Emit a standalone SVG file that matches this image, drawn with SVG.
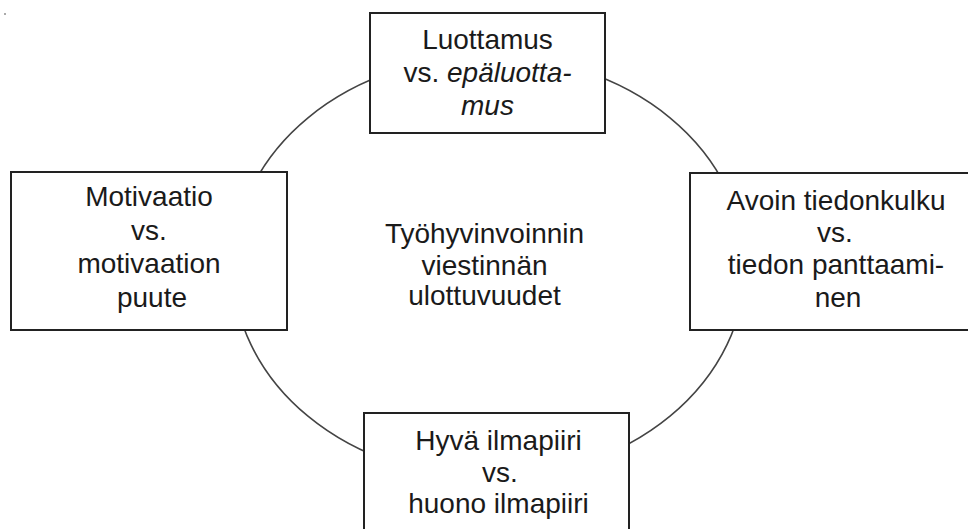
<svg xmlns="http://www.w3.org/2000/svg" width="968" height="529" viewBox="0 0 968 529">
<style>
.box{fill:#fff;stroke:#222;stroke-width:2}
.t{font-family:"Liberation Sans",Arial,sans-serif;font-size:28px;fill:#1a1a1a;text-anchor:middle}
.ring{fill:none;stroke:#444;stroke-width:1.6}
</style>
<rect width="968" height="529" fill="#fff"/>
<rect x="4" y="13" width="2" height="2" fill="#aaa"/>
<g id="connectors">
<ellipse class="ring" cx="489" cy="267" rx="256" ry="211"/>
</g>
<g id="center">
<text class="t" x="484.5" y="243">Työhyvinvoinnin</text>
<text class="t" x="484.5" y="274.5">viestinnän</text>
<text class="t" x="484.5" y="305">ulottuvuudet</text>
</g>
<g id="top">
<rect class="box" x="370" y="13" width="235" height="120"/>
<text class="t" x="487.5" y="49">Luottamus</text>
<text class="t" x="487.5" y="82">vs. <tspan font-style="italic">epäluotta-</tspan></text>
<text class="t" x="487.5" y="115" font-style="italic">mus</text>
</g>
<g id="left">
<rect class="box" x="11" y="172" width="276" height="158"/>
<text class="t" x="149" y="206">Motivaatio</text>
<text class="t" x="149" y="240">vs.</text>
<text class="t" x="149" y="273">motivaation</text>
<text class="t" x="152" y="306.5">puute</text>
</g>
<g id="right">
<rect class="box" x="690" y="173" width="300" height="157"/>
<text class="t" x="836" y="210">Avoin tiedonkulku</text>
<text class="t" x="835" y="241.5">vs.</text>
<text class="t" x="836" y="273.5">tiedon panttaami-</text>
<text class="t" x="838" y="306.5">nen</text>
</g>
<g id="bottom">
<rect class="box" x="364" y="413" width="265" height="140"/>
<text class="t" x="498.5" y="450">Hyvä ilmapiiri</text>
<text class="t" x="500" y="481.5">vs.</text>
<text class="t" x="498.5" y="512.5">huono ilmapiiri</text>
</g>
</svg>
